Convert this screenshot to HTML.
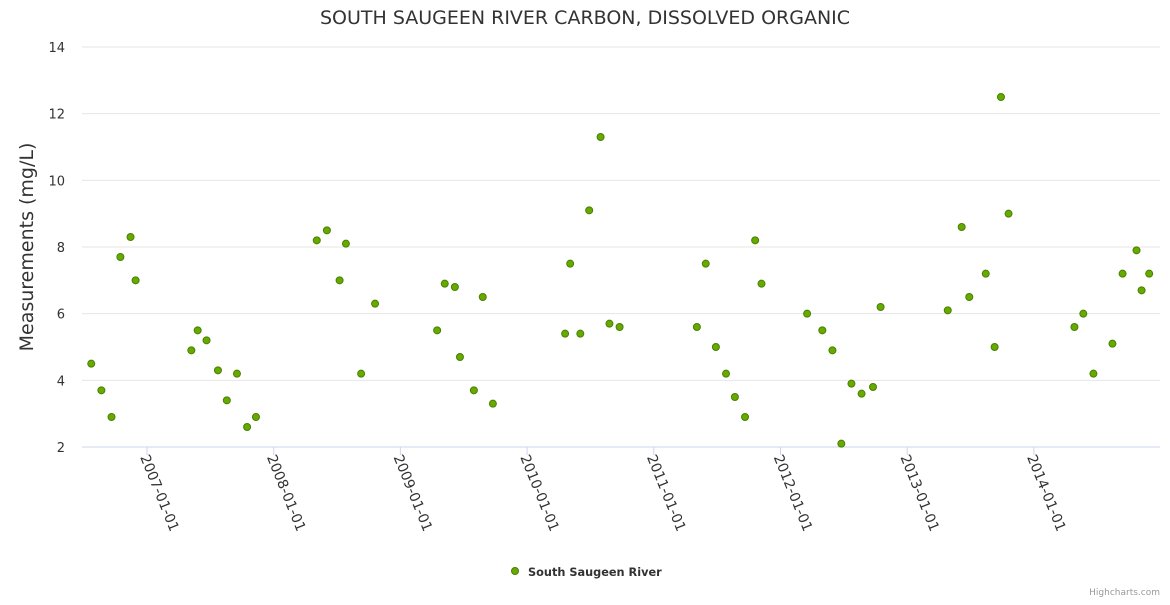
<!DOCTYPE html>
<html><head><meta charset="utf-8"><style>
html,body{margin:0;padding:0;background:#fff;}
svg text{font-family:"DejaVu Sans","Liberation Sans",sans-serif;}
</style></head><body>
<svg width="1170" height="600" viewBox="0 0 1170 600" xmlns="http://www.w3.org/2000/svg">
<text x="585" y="24" text-anchor="middle" font-size="19" fill="#333">SOUTH SAUGEEN RIVER CARBON, DISSOLVED ORGANIC</text>
<text transform="translate(33,247) rotate(-90)" text-anchor="middle" font-size="19" fill="#333">Measurements (mg/L)</text>
<g id="grid"></g>
<g id="xaxis"></g>
<g id="points"></g>
<g>
<circle cx="515" cy="571" r="3.5" fill="#66aa00" stroke="#4a7f00" stroke-width="1"/>
<text x="528" y="576" font-size="11.3" font-weight="bold" fill="#333">South Saugeen River</text>
</g>
<text x="1160" y="595" text-anchor="end" font-size="9" fill="#999">Highcharts.com</text>
</svg>
<script>
const yTicks=[2,4,6,8,10,12,14];
const xTickYears=[2007,2008,2009,2010,2011,2012,2013,2014];
const xTickLabels=["2007-01-01","2008-01-01","2009-01-01","2010-01-01","2011-01-01","2012-01-01","2013-01-01","2014-01-01"];
const dates=[2006.56,2006.64,2006.72,2006.79,2006.87,2006.91,2007.35,2007.40,2007.47,2007.56,2007.63,2007.71,2007.79,2007.86,2008.34,2008.42,2008.52,2008.57,2008.69,2008.80,2009.29,2009.35,2009.43,2009.47,2009.58,2009.65,2009.73,2010.30,2010.34,2010.42,2010.49,2010.58,2010.65,2010.73,2011.34,2011.41,2011.49,2011.57,2011.64,2011.72,2011.80,2011.85,2012.21,2012.33,2012.41,2012.48,2012.56,2012.64,2012.73,2012.79,2013.32,2013.43,2013.49,2013.62,2013.69,2013.74,2013.80,2014.32,2014.39,2014.47,2014.62,2014.70,2014.81,2014.85,2014.91];
const values=[4.5,3.7,2.9,7.7,8.3,7.0,4.9,5.5,5.2,4.3,3.4,4.2,2.6,2.9,8.2,8.5,7.0,8.1,4.2,6.3,5.5,6.9,6.8,4.7,3.7,6.5,3.3,5.4,7.5,5.4,9.1,11.3,5.7,5.6,5.6,7.5,5.0,4.2,3.5,2.9,8.2,6.9,6.0,5.5,4.9,2.1,3.9,3.6,3.8,6.2,6.1,8.6,6.5,7.2,5.0,12.5,9.0,5.6,6.0,4.2,5.1,7.2,7.9,6.7,7.2];
const NS="http://www.w3.org/2000/svg";
const L=82,R=1160,T=47,B=447,ymin=2,ymax=14;
const xs=y=>147+(y-2007)*126.7;
const ys=v=>B-(v-ymin)/(ymax-ymin)*(B-T);
function mk(t,a,p){const e=document.createElementNS(NS,t);for(const k in a)e.setAttribute(k,a[k]);p.appendChild(e);return e;}
const g=document.getElementById('grid');
yTicks.forEach(v=>{
 const ln=mk('line',{x1:L,x2:R,y1:ys(v),y2:ys(v),stroke:v===ymin?'#ccd6eb':'#e6e6e6','stroke-width':1},g);
 
 
 const t=mk('text',{x:65,y:ys(v)+5,'text-anchor':'end','font-size':13,fill:'#333'},g);
 t.textContent=v;
 
 
});
const xa=document.getElementById('xaxis');
xTickYears.forEach((yr,i)=>{
 const x=xs(yr);
 const tk=mk('line',{x1:x,x2:x,y1:B,y2:B+8,stroke:'#ccd6eb'},xa);
 
 
 const t=mk('text',{transform:`translate(${x-7},${B+10}) rotate(68)`,'font-size':14,fill:'#333'},xa);
 t.textContent=xTickLabels[i];
 
 
});
const pg=document.getElementById('points');
dates.forEach((d,i)=>{
 const c=mk('circle',{cx:xs(d),cy:ys(values[i]),r:3.5,fill:'#66aa00',stroke:'#4a7f00','stroke-width':1},pg);
 
 
});
</script>
</body></html>
